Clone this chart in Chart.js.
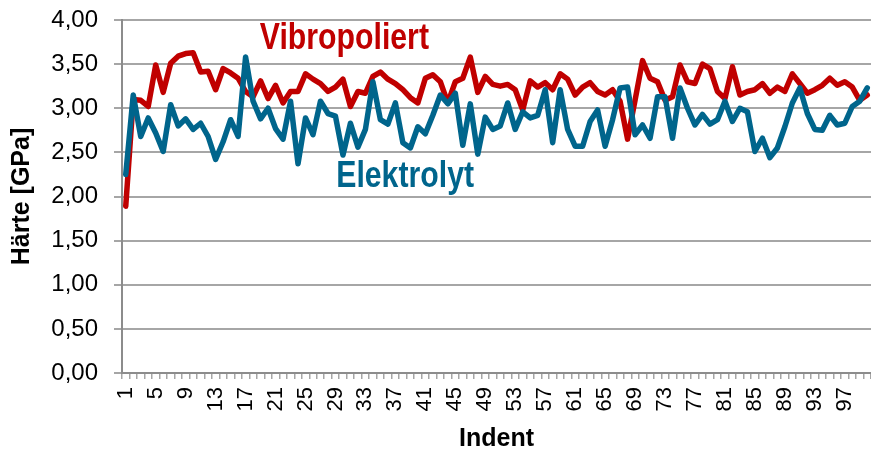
<!DOCTYPE html>
<html>
<head>
<meta charset="utf-8">
<script src="https://cdn.jsdelivr.net/npm/chart.js@4/dist/chart.umd.min.js"></script>
<style>
  html, body { margin: 0; padding: 0; background: #fff; }
  #c { display: block; }
</style>
</head>
<body>
<canvas id="c" width="871" height="454"></canvas>
<script>
// Härte über Indent – Vibropoliert vs. Elektrolyt

const indents = Array.from({ length: 100 }, (_, i) => String(i + 1));

const vibropoliert = [
  1.89, 3.10, 3.09, 3.02, 3.49, 3.18, 3.51, 3.59, 3.62, 3.63,
  3.41, 3.42, 3.21, 3.45, 3.40, 3.34, 3.19, 3.13, 3.31, 3.11,
  3.26, 3.06, 3.19, 3.19, 3.39, 3.33, 3.28, 3.19, 3.24, 3.33,
  3.02, 3.19, 3.17, 3.36, 3.41, 3.33, 3.28, 3.21, 3.12, 3.06,
  3.34, 3.38, 3.30, 3.06, 3.30, 3.34, 3.58, 3.18, 3.36, 3.27,
  3.25, 3.27, 3.21, 2.98, 3.31, 3.24, 3.29, 3.21, 3.39, 3.33,
  3.15, 3.24, 3.29, 3.19, 3.15, 3.21, 3.08, 2.65, 3.09, 3.54,
  3.34, 3.30, 3.09, 3.13, 3.49, 3.30, 3.28, 3.50, 3.45, 3.19,
  3.11, 3.47, 3.15, 3.19, 3.21, 3.28, 3.17, 3.24, 3.19, 3.39,
  3.28, 3.17, 3.21, 3.26, 3.34, 3.26, 3.30, 3.24, 3.09, 3.15
];

const elektrolyt = [
  2.25, 3.15, 2.68, 2.89, 2.72, 2.51, 3.04, 2.80, 2.88, 2.76,
  2.83, 2.68, 2.42, 2.62, 2.87, 2.68, 3.58, 3.08, 2.88, 3.00,
  2.77, 2.65, 3.08, 2.37, 2.89, 2.70, 3.08, 2.94, 2.91, 2.47,
  2.83, 2.56, 2.76, 3.30, 2.87, 2.82, 3.06, 2.61, 2.55, 2.79,
  2.71, 2.92, 3.15, 3.05, 3.17, 2.58, 3.05, 2.48, 2.90, 2.76,
  2.80, 3.06, 2.76, 2.96, 2.89, 2.92, 3.21, 2.61, 3.21, 2.76,
  2.57, 2.57, 2.85, 2.98, 2.57, 2.87, 3.23, 3.24, 2.70, 2.81,
  2.66, 3.13, 3.13, 2.66, 3.23, 3.00, 2.81, 2.93, 2.82, 2.87,
  3.08, 2.85, 3.00, 2.96, 2.51, 2.66, 2.44, 2.55, 2.79, 3.06,
  3.23, 2.94, 2.76, 2.75, 2.92, 2.81, 2.83, 3.02, 3.08, 3.23
];

// Beschriftungen im Diagramm (Index, Wert = linke Grundlinie)
const seriesLabels = ['Vibropoliert', 'Elektrolyt'];
const labelIndex = [17.9, 28.1];
const labelValue = [3.67, 2.11];

const RED = '#C00000';
const BLUE = '#00658C';
const GRID = '#A6A6A6';
const AXIS = '#8C8C8C';
const FONT = "'Liberation Sans', Arial, sans-serif";

// schmale fette Schrift: Liberation Sans Bold horizontal gestaucht
const inlineLabels = {
  id: 'inlineLabels',
  afterDatasetsDraw(chart) {
    const { ctx, scales } = chart;
    const colors = [RED, BLUE];
    seriesLabels.forEach((txt, i) => {
      ctx.save();
      ctx.translate(scales.x.getPixelForValue(labelIndex[i]), scales.y.getPixelForValue(labelValue[i]));
      ctx.scale(0.84, 1);
      ctx.font = "bold 36px 'Liberation Sans', Arial, sans-serif";
      ctx.textAlign = 'left';
      ctx.textBaseline = 'alphabetic';
      ctx.fillStyle = colors[i];
      ctx.fillText(txt, 0, 0);
      ctx.restore();
    });
  }
};

const noPad = s => { s.paddingLeft = 0; s.paddingRight = 0; s.paddingTop = 0; s.paddingBottom = 0; };

new Chart(document.getElementById('c'), {
  type: 'line',
  data: {
    labels: indents,
    datasets: [
      // Elektrolyt zuerst -> wird oben gezeichnet
      { label: seriesLabels[1], data: elektrolyt, borderColor: BLUE, borderWidth: 5.5,
        pointRadius: 0, tension: 0, borderJoinStyle: 'round', borderCapStyle: 'round' },
      { label: seriesLabels[0], data: vibropoliert, borderColor: RED, borderWidth: 5.5,
        pointRadius: 0, tension: 0, borderJoinStyle: 'round', borderCapStyle: 'round' }
    ]
  },
  options: {
    responsive: false,
    devicePixelRatio: 1,
    animation: false,
    layout: { padding: { top: 20, right: 0, left: 0, bottom: 0 } },
    plugins: { legend: { display: false }, tooltip: { enabled: false } },
    scales: {
      x: {
        offset: true,
        grid: { drawOnChartArea: false, offset: true, color: GRID, lineWidth: 1.5, tickLength: 6 },
        border: { color: AXIS, width: 2 },
        ticks: {
          autoSkip: false, maxRotation: 90, minRotation: 90, padding: 8,
          color: '#000', font: { family: FONT, size: 22 },
          callback: (v, i) => (i % 4 === 0 ? indents[i] : '')
        },
        title: { display: true, text: 'Indent', color: '#000', padding: { top: 0, bottom: 0 },
          font: { family: FONT, size: 25, weight: 'bold', lineHeight: 1.2 } },
        afterFit: s => { s.height = 81; noPad(s); }
      },
      y: {
        min: 0, max: 4,
        grid: { color: GRID, lineWidth: 2, tickLength: 8 },
        border: { color: AXIS, width: 2 },
        ticks: {
          stepSize: 0.5, padding: 16, color: '#000', font: { family: FONT, size: 24 },
          callback: v => v.toFixed(2).replace('.', ',')
        },
        title: { display: true, text: 'Härte [GPa]', color: '#000', padding: { top: 7, bottom: 0 },
          font: { family: FONT, size: 25, weight: 'bold', lineHeight: 1.2 } },
        afterFit: s => { s.width = 122; noPad(s); }
      }
    }
  },
  plugins: [inlineLabels]
});
</script>
</body>
</html>
